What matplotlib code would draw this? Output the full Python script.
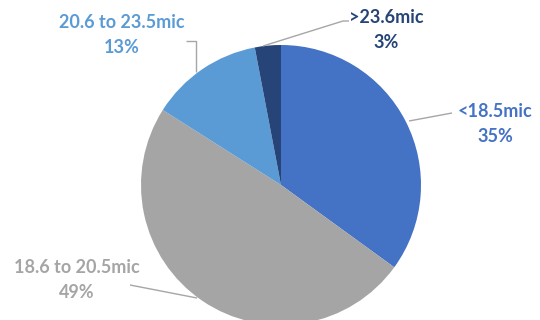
import matplotlib
matplotlib.use("Agg")
import matplotlib.pyplot as plt

categories = ["<18.5mic", "18.6 to 20.5mic", "20.6 to 23.5mic", ">23.6mic"]
shares = [35, 49, 13, 3]
colors = ["#4472C4", "#A5A5A5", "#5B9BD5", "#264478"]

W, H = 540, 320
fig = plt.figure(figsize=(5.4, 3.2), dpi=100)
ax = fig.add_axes([0, 0, 1, 1])

cx, cy, r = 281, H - 185, 140
ax.pie(shares, colors=colors, startangle=90, counterclock=False,
       center=(cx, cy), radius=r, wedgeprops=dict(linewidth=0))

ax.set_xlim(0, W)
ax.set_ylim(0, H)
ax.set_aspect("equal")
ax.axis("off")

# label positions (pixel coords: x, y of text centre) and leader polylines
label_pos = [(495, 124), (77, 280), (122, 35), (386, 30)]
leaders = [
    [(409, 121), (452, 113)],
    [(197, 298), (130, 285)],
    [(196, 72), (196, 41), (186, 41)],
    [(263, 46), (343, 21), (349, 21)],
]

for cat, val, col, (tx, ty), pts in zip(categories, shares, colors, label_pos, leaders):
    ax.text(tx, H - ty, f"{cat}\n{val}%", color=col, ha="center", va="center",
            fontsize=13, fontweight="bold", family=["Lato", "DejaVu Sans"],
            linespacing=1.55)
    xs = [p[0] for p in pts]
    ys = [H - p[1] for p in pts]
    ax.plot(xs, ys, color="#A6A6A6", lw=1.0, solid_capstyle="butt")

fig.savefig("out.png", dpi=100)
